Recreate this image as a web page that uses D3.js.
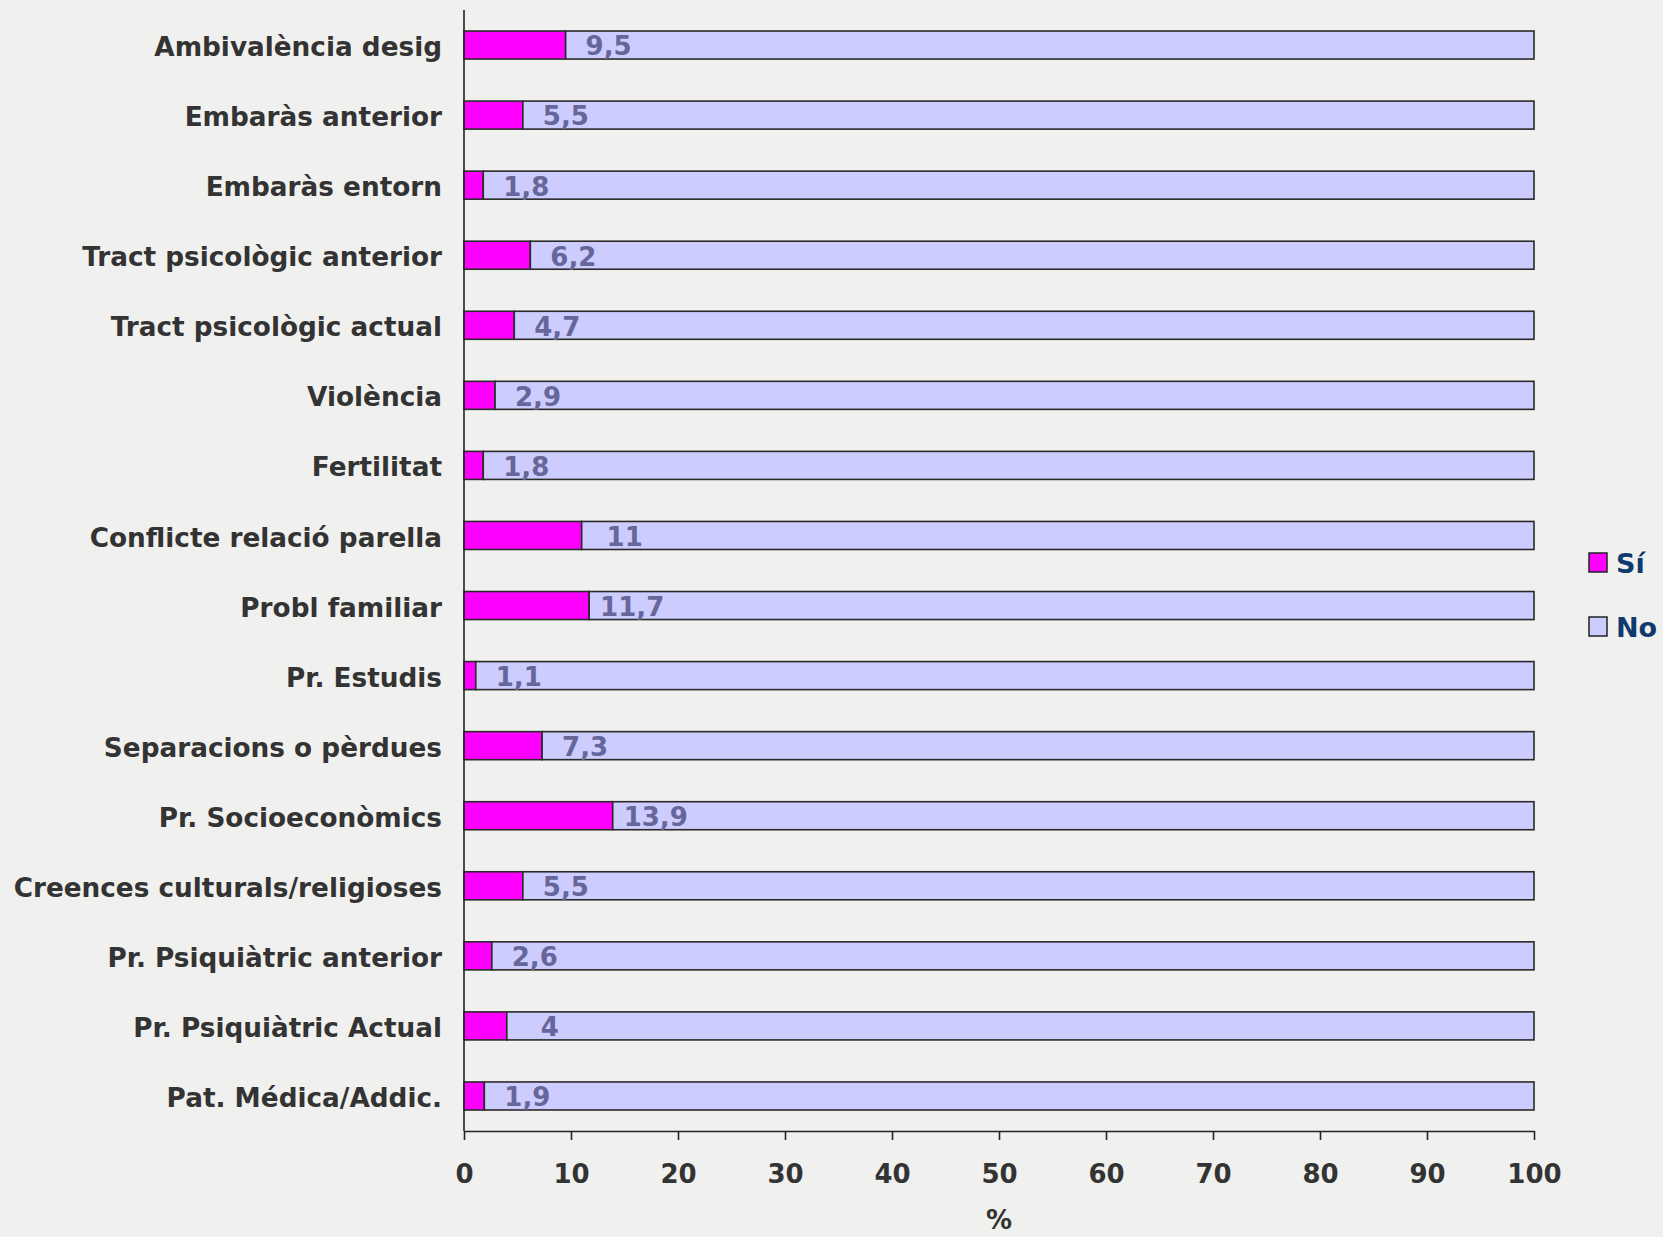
<!DOCTYPE html>
<html>
<head>
<meta charset="utf-8">
<script src="https://cdn.jsdelivr.net/npm/d3@7"></script>
<style>
  html, body { margin: 0; padding: 0; background: #f0f0ee; }
  svg { display: block; }
  text { font-family: "DejaVu Sans", Verdana, sans-serif; font-weight: bold; }
</style>
</head>
<body>
<svg id="chart" width="1663" height="1237"></svg>
<script>
const categories = [
  "Ambivalència desig",
  "Embaràs anterior",
  "Embaràs entorn",
  "Tract psicològic anterior",
  "Tract psicològic actual",
  "Violència",
  "Fertilitat",
  "Conflicte relació parella",
  "Probl familiar",
  "Pr. Estudis",
  "Separacions o pèrdues",
  "Pr. Socioeconòmics",
  "Creences culturals/religioses",
  "Pr. Psiquiàtric anterior",
  "Pr. Psiquiàtric Actual",
  "Pat. Médica/Addic."
];
const siValues = [9.5, 5.5, 1.8, 6.2, 4.7, 2.9, 1.8, 11, 11.7, 1.1, 7.3, 13.9, 5.5, 2.6, 4, 1.9];
const noValues = siValues.map(v => +(100 - v).toFixed(1));
const seriesNames = ["Sí", "No"];
const xTicks = [0, 10, 20, 30, 40, 50, 60, 70, 80, 90, 100];
const axisTitle = "%";

(function () {
const colors = { "Sí": "#ff00ff", "No": "#ccccff" };

const svg = d3.select("#chart");
const mLeft = 464, mRight = 1534, mTop = 10, mBottom = 1131;

const x = d3.scaleLinear().domain([0, 100]).range([mLeft, mRight]);
const y = d3.scaleBand().domain(categories).range([mTop, mBottom])
  .paddingInner(0.6).paddingOuter(0.3);

const rows = categories.map((c, i) => ({ cat: c, "Sí": siValues[i], "No": noValues[i] }));
const stack = d3.stack().keys(seriesNames)(rows);

svg.append("g").selectAll("g").data(stack).join("g")
  .attr("fill", d => colors[d.key])
  .selectAll("rect").data(d => d).join("rect")
  .attr("x", d => x(d[0]))
  .attr("y", d => y(d.data.cat))
  .attr("width", d => x(d[1]) - x(d[0]))
  .attr("height", y.bandwidth())
  .attr("stroke", "#2a2a2a")
  .attr("stroke-width", 1.6);

// value labels
svg.append("g").selectAll("text").data(rows).join("text")
  .attr("x", d => x(d["Sí"]) + 43)
  .attr("y", d => y(d.cat) + y.bandwidth() / 2)
  .attr("dy", "0.4em")
  .attr("text-anchor", "middle")
  .attr("font-size", 26)
  .attr("fill", "#66669a")
  .text(d => String(d["Sí"]).replace(".", ","));

// x axis
const xAxis = svg.append("g")
  .attr("transform", `translate(0,${mBottom})`)
  .call(d3.axisBottom(x).tickValues(xTicks).tickSize(9).tickSizeOuter(0).tickPadding(25));
xAxis.select(".domain").attr("stroke", "#222").attr("stroke-width", 1.6);
xAxis.selectAll(".tick line").attr("stroke", "#222").attr("stroke-width", 1.6);
xAxis.selectAll(".tick text")
  .attr("font-size", 26).attr("fill", "#333")
  .style("font-family", '"DejaVu Sans", Verdana, sans-serif').style("font-weight", "bold");

// y axis
const yAxis = svg.append("g")
  .attr("transform", `translate(${mLeft},0)`)
  .call(d3.axisLeft(y).tickSize(0).tickSizeOuter(0).tickPadding(22));
yAxis.select(".domain").attr("stroke", "#222").attr("stroke-width", 1.6)
  .attr("d", `M0,${mTop}V${mBottom}`);
yAxis.selectAll(".tick text")
  .attr("font-size", 26.3).attr("fill", "#333").attr("dy", "0.42em")
  .style("font-family", '"DejaVu Sans", Verdana, sans-serif').style("font-weight", "bold");

// axis title
svg.append("text")
  .attr("x", (mLeft + mRight) / 2)
  .attr("y", 1220)
  .attr("dy", "0.36em")
  .attr("text-anchor", "middle")
  .attr("font-size", 26)
  .attr("fill", "#333")
  .text(axisTitle);

// legend
const legend = svg.append("g").selectAll("g").data(seriesNames).join("g")
  .attr("transform", (d, i) => `translate(1589,${553 + i * 64})`);
legend.append("rect")
  .attr("width", 18).attr("height", 19)
  .attr("fill", d => colors[d])
  .attr("stroke", "#222").attr("stroke-width", 1.5);
legend.append("text")
  .attr("x", 27).attr("y", 10)
  .attr("dy", "0.38em")
  .attr("font-size", 27)
  .attr("fill", "#0f3a6e")
  .text(d => d);
})();
</script>
</body>
</html>
